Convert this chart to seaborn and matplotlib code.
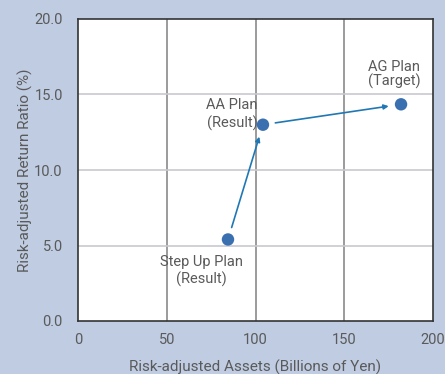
import matplotlib
matplotlib.use("Agg")
import matplotlib.pyplot as plt
import seaborn as sns
import pandas as pd

plans = ["Step Up Plan\n(Result)", "AA Plan\n(Result)", "AG Plan\n(Target)"]
assets = [84.5, 104.2, 182.0]
return_ratio = [5.4, 13.0, 14.35]

x_ticks = [0, 50, 100, 150, 200]
y_ticks = [0.0, 5.0, 10.0, 15.0, 20.0]

bg = "#bfcce2"
text_col = "#5a5a5a"
dot_col = "#3a6fb0"
arrow_col = "#1f78b4"

sns.set_theme(style="white")
plt.rcParams["font.family"] = ["Roboto", "DejaVu Sans"]

df = pd.DataFrame({"plan": plans, "assets": assets, "ratio": return_ratio})

fig = plt.figure(figsize=(4.45, 3.74), dpi=100, facecolor=bg)
ax = fig.add_axes([78 / 445, 1 - 321 / 374, 355 / 445, 302 / 374])
ax.set_facecolor("white")

sns.scatterplot(data=df, x="assets", y="ratio", ax=ax, s=80, color=dot_col,
                edgecolor="none", zorder=4)

ax.set_xlim(0, 200)
ax.set_ylim(0, 20)
ax.set_xticks(x_ticks)
ax.set_yticks(y_ticks)
ax.set_xticklabels([f"{v}" for v in x_ticks])
ax.set_yticklabels([f"{v:.1f}" for v in y_ticks])
ax.tick_params(axis="both", length=0, labelsize=10.5, colors=text_col)
ax.tick_params(axis="x", pad=8.5)
ax.tick_params(axis="y", pad=11)

# vertical grid darker than horizontal grid
for xv in x_ticks[1:-1]:
    ax.axvline(xv, color="#8a8a8a", lw=1.2, zorder=1)
for yv in y_ticks[1:-1]:
    ax.axhline(yv, color="#c8c8d0", lw=1.2, zorder=1)

for side in ["left", "bottom", "right", "top"]:
    ax.spines[side].set_color("#333333")
    ax.spines[side].set_linewidth(1.2)

ax.set_xlabel("Risk-adjusted Assets (Billions of Yen)", fontsize=11,
              color=text_col, labelpad=9)
ax.set_ylabel("Risk-adjusted Return Ratio (%)", fontsize=11,
              color=text_col, labelpad=1)

# arrows between consecutive plans
for i in range(len(plans) - 1):
    ax.annotate("", xy=(assets[i + 1], return_ratio[i + 1]),
                xytext=(assets[i], return_ratio[i]),
                arrowprops=dict(arrowstyle="-|>", color=arrow_col, lw=1.2,
                                mutation_scale=7, shrinkA=9, shrinkB=9),
                zorder=3)

# plan labels
ax.text(assets[0] - 15, return_ratio[0] - 1.0, plans[0], ha="center", va="top",
        fontsize=10.5, color=text_col, linespacing=1.3)
ax.text(assets[1] - 3, return_ratio[1] + 0.7, plans[1], ha="right", va="center",
        fontsize=10.5, color=text_col, linespacing=1.3)
ax.text(assets[2] - 4, return_ratio[2] + 1.0, plans[2], ha="center", va="bottom",
        fontsize=10.5, color=text_col, linespacing=1.0)

fig.savefig("out.png", dpi=100, facecolor=bg)
